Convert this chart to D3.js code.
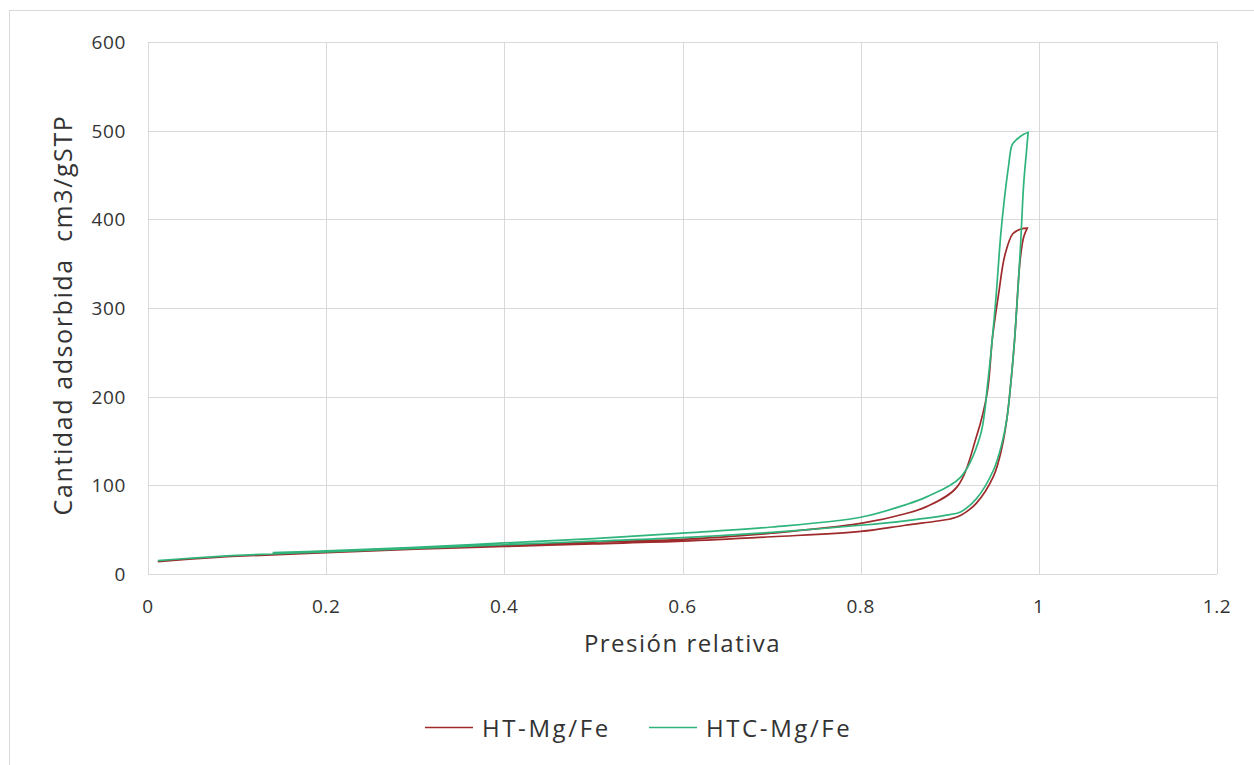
<!DOCTYPE html>
<html>
<head>
<meta charset="utf-8">
<script src="https://cdn.jsdelivr.net/npm/d3@7"></script>
<style>
  body { margin: 0; background: #fff; }
  svg { display: block; font-family: "Open Sans", "Noto Sans", sans-serif; }
</style>
</head>
<body>
<div id="chart"></div>
<script>
// HT-Mg/Fe: adsorption then desorption branch
const htAdsX = [0.011, 0.05, 0.1, 0.2, 0.3, 0.4, 0.5, 0.6, 0.7, 0.8, 0.85, 0.9, 0.912, 0.93, 0.949, 0.958, 0.964, 0.969, 0.973, 0.979, 0.983, 0.987];
const htAdsY = [14, 17, 20, 24, 28, 31, 34, 37, 42, 48, 55, 62, 66, 80, 110, 140, 174, 220, 267, 354, 380, 390];
const htDesX = [0.987, 0.98, 0.971, 0.962, 0.955, 0.948, 0.942, 0.93, 0.908, 0.874, 0.85, 0.8, 0.7, 0.6, 0.5, 0.4, 0.3, 0.2, 0.14];
const htDesY = [390, 389, 384, 360, 317, 267, 204, 155, 98, 76, 68, 57, 46, 39, 36, 32, 29, 25, 23];

// HTC-Mg/Fe
const htcAdsX = [0.011, 0.05, 0.1, 0.2, 0.3, 0.4, 0.5, 0.6, 0.7, 0.8, 0.85, 0.9, 0.912, 0.93, 0.949, 0.958, 0.964, 0.969, 0.973, 0.979, 0.983, 0.986, 0.988];
const htcAdsY = [15, 18, 21, 25, 29, 33, 37, 41, 47, 55, 60, 67, 70, 85, 117, 145, 174, 220, 267, 362, 440, 475, 498];
const htcDesX = [0.988, 0.983, 0.975, 0.97, 0.966, 0.961, 0.957, 0.954, 0.951, 0.943, 0.934, 0.912, 0.874, 0.85, 0.8, 0.7, 0.6, 0.5, 0.4, 0.3, 0.2, 0.14];
const htcDesY = [498, 496, 490, 484, 460, 420, 380, 340, 301, 219, 155, 109, 87, 78, 64, 53, 46, 40, 35, 30, 26, 24];

const xTicks = [0, 0.2, 0.4, 0.6, 0.8, 1, 1.2];
const yTicks = [0, 100, 200, 300, 400, 500, 600];

const series = [
  { name: 'HT-Mg/Fe', color: '#9e2a2b', x: htAdsX.concat(htDesX), y: htAdsY.concat(htDesY) },
  { name: 'HTC-Mg/Fe', color: '#2fb47c', x: htcAdsX.concat(htcDesX), y: htcAdsY.concat(htcDesY) }
];

var W = 1254, H = 765;
var m = { left: 148, right: 1217, top: 42, bottom: 574 };
var textColor = '#333';

var svg = d3.select('#chart').append('svg')
  .attr('width', W)
  .attr('height', H);

// outer chart frame
svg.append('rect')
  .attr('x', 9.5).attr('y', 10.5)
  .attr('width', W).attr('height', H)
  .attr('fill', 'none')
  .attr('stroke', '#d9d9d9');

var x = d3.scaleLinear().domain([0, 1.2]).range([m.left, m.right]);
var y = d3.scaleLinear().domain([0, 600]).range([m.bottom, m.top]);

// grid
svg.append('g')
  .selectAll('line')
  .data(xTicks)
  .join('line')
  .attr('x1', d => Math.round(x(d)) + 0.5).attr('x2', d => Math.round(x(d)) + 0.5)
  .attr('y1', m.top).attr('y2', m.bottom)
  .attr('stroke', '#d9d9d9');

svg.append('g')
  .selectAll('line')
  .data(yTicks)
  .join('line')
  .attr('y1', d => Math.round(y(d)) + 0.5).attr('y2', d => Math.round(y(d)) + 0.5)
  .attr('x1', m.left).attr('x2', m.right)
  .attr('stroke', '#d9d9d9');

// tick labels
svg.append('g')
  .selectAll('text')
  .data(xTicks)
  .join('text')
  .attr('x', d => x(d))
  .attr('y', 613)
  .attr('text-anchor', 'middle')
  .attr('font-size', 19)
  .attr('letter-spacing', 0.6)
  .attr('fill', textColor)
  .text(d => d);

svg.append('g')
  .selectAll('text')
  .data(yTicks)
  .join('text')
  .attr('x', 126)
  .attr('y', d => y(d) + 7)
  .attr('text-anchor', 'end')
  .attr('font-size', 19)
  .attr('letter-spacing', 0.6)
  .attr('fill', textColor)
  .text(d => d);

// axis titles
svg.append('text')
  .attr('x', (m.left + m.right) / 2)
  .attr('y', 652)
  .attr('text-anchor', 'middle')
  .attr('font-size', 24)
  .attr('letter-spacing', 1.5)
  .attr('fill', textColor)
  .text('Presión relativa');

svg.append('text')
  .attr('transform', 'translate(72,315) rotate(-90)')
  .attr('text-anchor', 'middle')
  .attr('font-size', 25)
  .attr('letter-spacing', 1.6)
  .style('white-space', 'pre')
  .attr('fill', textColor)
  .text('Cantidad adsorbida  cm3/gSTP');

// curves
var pathLine = d3.line()
  .x(d => x(d[0]))
  .y(d => y(d[1]))
  .curve(d3.curveCatmullRom.alpha(0.5));

series.forEach(s => {
  var pts = s.x.map((v, i) => [v, s.y[i]]);
  svg.append('path')
    .datum(pts)
    .attr('d', pathLine)
    .attr('fill', 'none')
    .attr('stroke', s.color)
    .attr('stroke-width', 1.7);
});

// legend
var leg = svg.append('g');
var legX = [425, 649];
series.forEach((s, i) => {
  leg.append('line')
    .attr('x1', legX[i]).attr('x2', legX[i] + 48)
    .attr('y1', 727.5).attr('y2', 727.5)
    .attr('stroke', s.color)
    .attr('stroke-width', 1.7);
  leg.append('text')
    .attr('x', legX[i] + 57)
    .attr('y', 737)
    .attr('font-size', 24)
    .attr('letter-spacing', 2.6)
    .attr('fill', textColor)
    .text(s.name);
});
</script>
</body>
</html>
